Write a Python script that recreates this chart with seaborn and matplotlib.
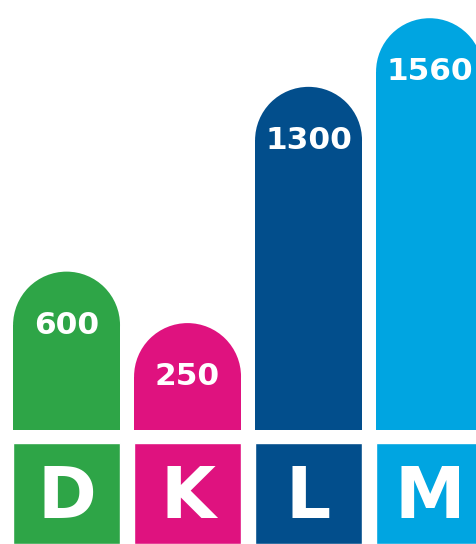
import numpy as np
import seaborn as sns
import matplotlib
matplotlib.use("Agg")
import matplotlib.pyplot as plt
from matplotlib.patches import Ellipse

# data
letters = ["D", "K", "L", "M"]
values = [600, 250, 1300, 1560]
colors = ["#2ea547", "#df127f", "#024e8c", "#00a5e1"]

# short bars get a minimum height so the number fits inside the rounded cap
min_height = 405
shown = np.maximum(values, min_height)

sns.set_theme(style="white")
plt.rcParams["font.family"] = ["DejaVu Sans"]

fig = plt.figure(figsize=(4.76, 5.44), dpi=100)
ax = fig.add_axes([0, 114 / 544, 1, 430 / 544])
ax_lab = fig.add_axes([0, 0, 1, 101 / 544])

bar_w = 0.884
xlim = (-0.55, 3.384)

# value bars
sns.barplot(x=letters, y=shown, hue=letters, palette=colors, legend=False,
            width=bar_w, saturation=1, ax=ax)
ax.set_xlim(*xlim)
ax.set_ylim(0, 1629)
ax.axis("off")

# turn the flat tops into semicircles
px_x = ax.bbox.width / (xlim[1] - xlim[0])
px_y = ax.bbox.height / 1629
for p, col, val in zip(ax.patches, colors, values):
    x, w, h = p.get_x(), p.get_width(), p.get_height()
    ry = (w * px_x / 2) / px_y
    p.set_height(h - ry)
    p.set_linewidth(0)
    ax.add_patch(Ellipse((x + w / 2, h - ry), w, 2 * ry, facecolor=col, linewidth=0))
    ax.text(x + w / 2, h - ry, str(val), color="white", fontsize=22.5,
            fontweight="bold", ha="center", va="center")

# letter boxes
sns.barplot(x=letters, y=[1] * len(letters), hue=letters, palette=colors,
            legend=False, width=bar_w, saturation=1, ax=ax_lab)
ax_lab.set_xlim(*xlim)
ax_lab.set_ylim(0, 1)
ax_lab.axis("off")
for i, letter in enumerate(letters):
    ax_lab.text(i, 0.45, letter, color="white", fontsize=51,
                fontweight="bold", ha="center", va="center")

fig.savefig("out.png", dpi=100)
